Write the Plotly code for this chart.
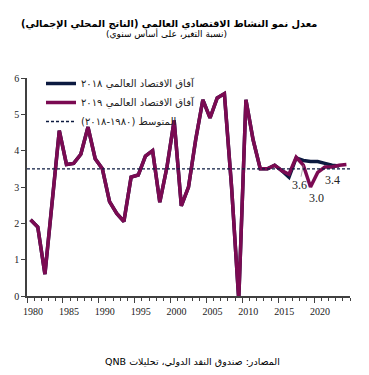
import plotly.graph_objects as go

years = list(range(1980, 2025))
weo2019 = [2.1, 1.9, 0.6, 2.7, 4.55, 3.62, 3.65, 3.9, 4.65, 3.78,
           3.5, 2.6, 2.27, 2.05, 3.27, 3.33, 3.85, 4.0, 2.58, 3.55,
           4.83, 2.48, 3.0, 4.3, 5.4, 4.9, 5.45, 5.57, 3.0, -0.1,
           5.4, 4.3, 3.5, 3.5, 3.6, 3.45, 3.35, 3.82, 3.6, 3.0,
           3.4, 3.55, 3.55, 3.6, 3.62]
years_2018 = list(range(1980, 2024))
weo2018 = weo2019[:36] + [3.27, 3.8, 3.73, 3.7, 3.7, 3.65, 3.6, 3.58]
average = 3.5

label_years = [1980, 1985, 1990, 1995, 2000, 2005, 2010, 2015, 2020]
annot_years = [2018, 2019, 2020]
annot_text = ["3.6", "3.0", "3.4"]

RLM = "\u200f"
def rtl(s):
    return RLM + s + RLM

name_2018 = rtl("آفاق الاقتصاد العالمي ٢٠١٨")
name_2019 = rtl("آفاق الاقتصاد العالمي ٢٠١٩")
name_avg = rtl("المتوسط (١٩٨٠-٢٠١٨)")
title_text = rtl("معدل نمو النشاط الاقتصادي العالمي (الناتج المحلي الإجمالي)")
subtitle_text = rtl("(نسبة التغير، على أساس سنوي)")
source_text = "QNB " + rtl("المصادر: صندوق النقد الدولي، تحليلات")

NAVY = "#0c1a40"
PURPLE = "#7b0a52"
AXIS = "#404040"
SERIF = "Liberation Serif, Times New Roman, serif"
ARABIC = "DejaVu Sans, sans-serif"

# page offset (default body margin of the html page)
OFF = 8
W, H = 369 - OFF, 375 - OFF
PL, PR, PT, PB = 27 - OFF, 350 - OFF, 78 - OFF, 296 - OFF  # plot area in figure px
PW, PH = PR - PL, PB - PT

def px(xp):  # page x -> paper
    return (xp - OFF - PL) / PW

def py(yp):  # page y -> paper
    return (PB - (yp - OFF)) / PH

fig = go.Figure()
fig.add_trace(go.Scatter(x=years_2018, y=weo2018, mode="lines", name=name_2018,
                         line=dict(color=NAVY, width=3.5)))
fig.add_trace(go.Scatter(x=years, y=weo2019, mode="lines", name=name_2019,
                         line=dict(color=PURPLE, width=3.5)))
fig.add_trace(go.Scatter(x=[years[0] - 0.5, years[-1] + 0.5], y=[average, average],
                         mode="lines", name=name_avg,
                         line=dict(color=NAVY, width=1.3, dash="3px,2px")))

# value annotations
idx = {y: i for i, y in enumerate(years)}
fig.add_annotation(x=annot_years[0], y=weo2019[idx[annot_years[0]]], text=annot_text[0],
                   showarrow=True, arrowhead=0, arrowwidth=0.8, arrowcolor="#999999",
                   ax=-4, ay=20, font=dict(family=SERIF, size=12, color="#222"))
fig.add_annotation(x=annot_years[1], y=weo2019[idx[annot_years[1]]], text=annot_text[1],
                   showarrow=False, xshift=6, yshift=-11, font=dict(family=SERIF, size=12, color="#222"))
fig.add_annotation(x=annot_years[2], y=weo2019[idx[annot_years[2]]], text=annot_text[2],
                   showarrow=False, xshift=15, yshift=-8, font=dict(family=SERIF, size=12, color="#222"))

# titles
fig.add_annotation(xref="paper", yref="paper", x=px(169), y=py(24), text=title_text,
                   showarrow=False, xanchor="center", yanchor="middle",
                   font=dict(family=ARABIC, size=9.8, color="#000", weight="bold"))
fig.add_annotation(xref="paper", yref="paper", x=px(166), y=py(33), text=subtitle_text,
                   showarrow=False, xanchor="center", yanchor="middle",
                   font=dict(family=ARABIC, size=9, color="#000"))
fig.add_annotation(xref="paper", yref="paper", x=px(192), y=py(361), text=source_text,
                   showarrow=False, xanchor="center", yanchor="middle",
                   font=dict(family=ARABIC, size=9.5, color="#000"))

fig.update_layout(
    width=W, height=H,
    margin=dict(l=PL, r=W - PR, t=PT, b=H - PB, autoexpand=False),
    paper_bgcolor="white", plot_bgcolor="white",
    showlegend=True,
    legend=dict(xref="container", yref="container", x=(41 - OFF) / W, y=1 - (69 - OFF) / H,
                xanchor="left", yanchor="top",
                bgcolor="rgba(0,0,0,0)", font=dict(family=ARABIC, size=10, color="#222"),
                tracegroupgap=0, itemwidth=30),
    xaxis=dict(range=[years[0] - 0.5, years[-1] + 0.5], automargin=False,
               tickmode="array", tickvals=[y - 0.5 for y in label_years],
               ticktext=[str(y) for y in label_years], ticklabelshift=6,
               ticks="outside", ticklen=5, tickwidth=1.2, tickcolor=AXIS,
               minor=dict(tickmode="linear", tick0=years[0] - 0.5, dtick=1,
                          ticks="outside", ticklen=3, tickwidth=1, tickcolor=AXIS),
               showline=True, linecolor=AXIS, linewidth=1.5, showgrid=False, zeroline=False,
               tickfont=dict(family=SERIF, size=10, color="#222")),
    yaxis=dict(range=[0, 6], dtick=1, showline=True, linecolor=AXIS, linewidth=1.5,
               automargin=False,
               ticks="outside", ticklen=4, tickcolor=AXIS, showgrid=False, zeroline=False,
               tickfont=dict(family=SERIF, size=10, color="#222")),
)

fig.write_html("out.html")
